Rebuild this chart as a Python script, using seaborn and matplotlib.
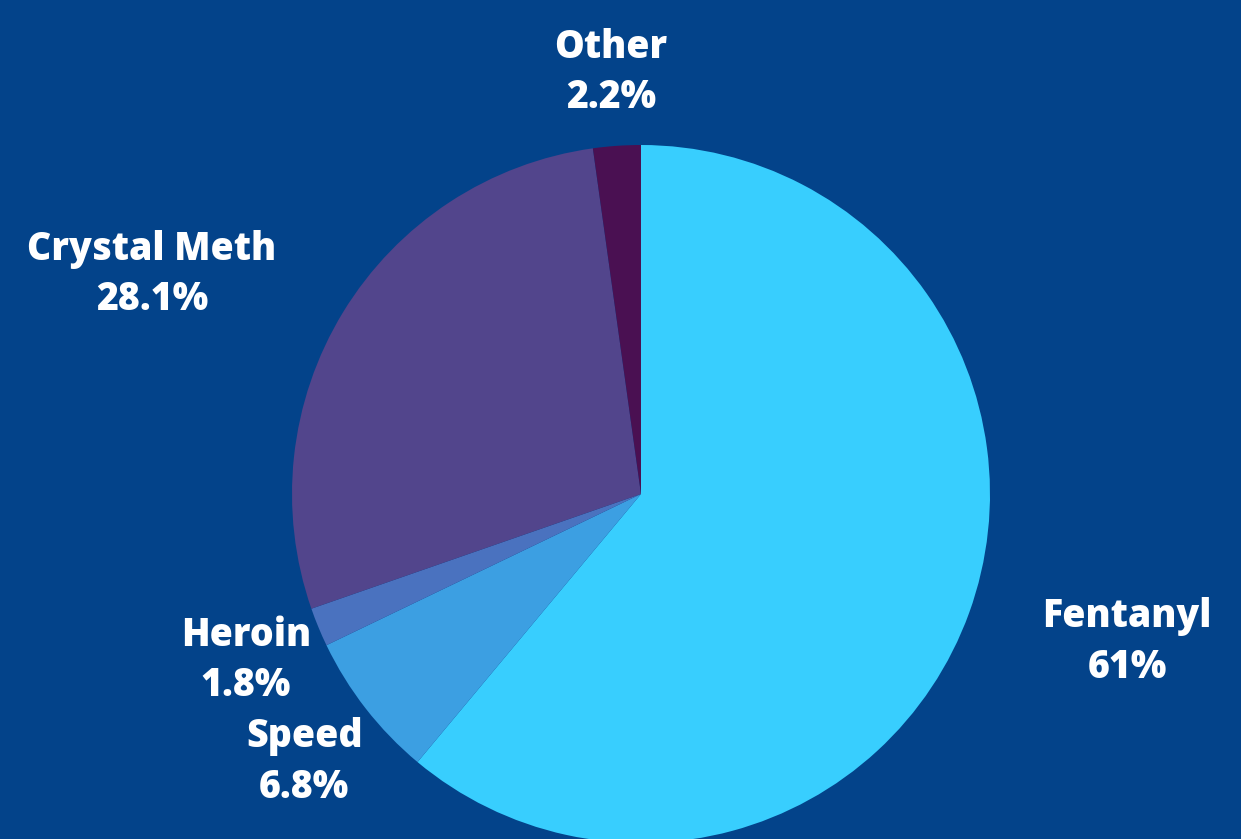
import matplotlib
matplotlib.use("Agg")
import matplotlib.pyplot as plt
import seaborn as sns

sns.set_theme(style="white")
plt.rcParams['font.family'] = ['Open Sans', 'DejaVu Sans']

drugs = ['Fentanyl', 'Speed', 'Heroin', 'Crystal Meth', 'Other']
shares = [61, 6.8, 1.8, 28.1, 2.2]
share_labels = ['61%', '6.8%', '1.8%', '28.1%', '2.2%']

colors = sns.color_palette(['#38CEFE', '#3C9FE2', '#4A72BF', '#52458C', '#4A1052'])
bg = '#03438A'

# label centres in pie-radius units (pie radius = 1)
label_pos = [(1.393, -0.424), (-0.965, -0.768), (-1.132, -0.476),
             (-1.401, 0.630), (-0.086, 1.208)]

W, H = 1241, 839
cx, cy, r = 641, 494, 349

fig = plt.figure(figsize=(W / 100, H / 100), dpi=100)
fig.patch.set_facecolor(bg)
ax = fig.add_axes([0, 0, 1, 1])
ax.set_facecolor(bg)

ax.pie(shares, colors=colors, startangle=90, counterclock=False,
       wedgeprops={'linewidth': 0})

for name, lab, (x, y) in zip(drugs, share_labels, label_pos):
    ax.text(x, y, f'{name}\n{lab}', ha='center', va='center', color='white',
            fontsize=27, fontweight='heavy', linespacing=1.37)

ax.set_xlim(-cx / r, (W - cx) / r)
ax.set_ylim(-(H - cy) / r, cy / r)
ax.set_aspect('auto')
ax.axis('off')

plt.savefig('out.png', dpi=100, facecolor=bg)
